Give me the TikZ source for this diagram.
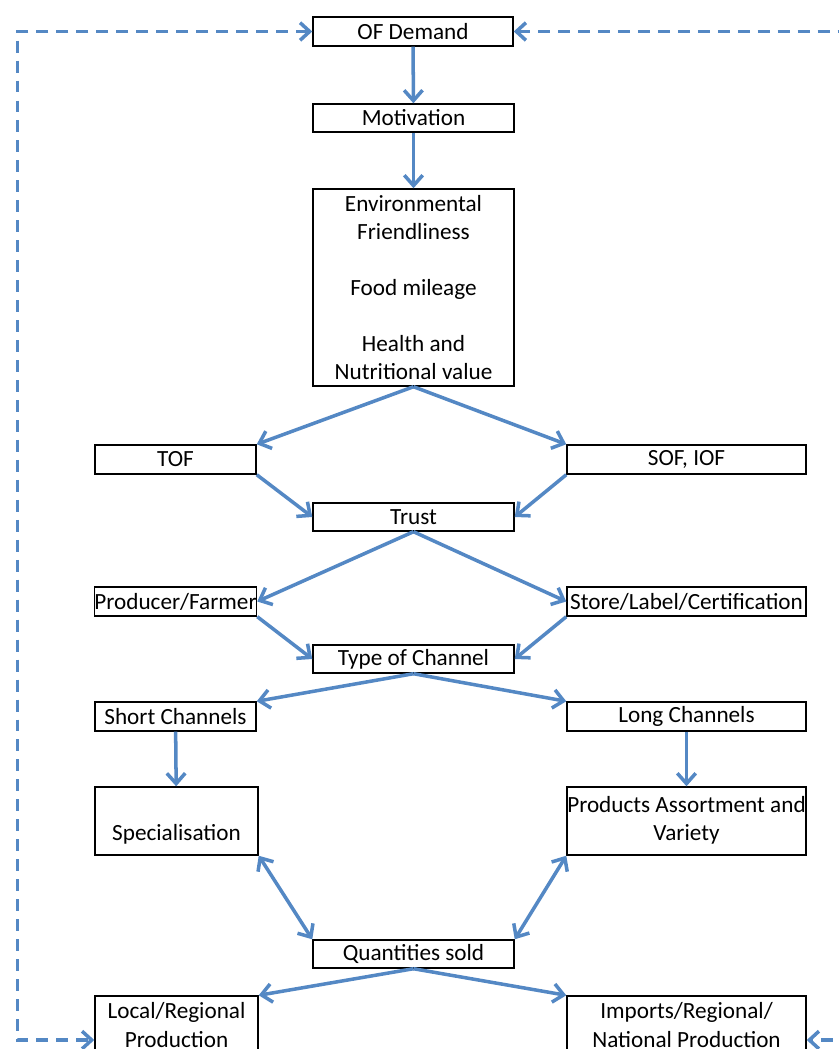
\documentclass[tikz,border=0pt]{standalone}
\usepackage{fontspec}
\setmainfont{Carlito}
\usetikzlibrary{arrows.meta}
\definecolor{flowblue}{RGB}{84,136,196}
\begin{document}
\begin{tikzpicture}[x=0.025cm,y=-0.025cm,
    box/.style={draw=black,line width=1pt,inner sep=0pt,align=center,
                font=\fontsize{16.5}{20}\selectfont},
    flow/.style={draw=flowblue,line width=2.5pt,
                 -{Straight Barb[length=2.6mm,width=4.6mm]}},
    twoflow/.style={flow,{Straight Barb[length=2.6mm,width=4.6mm]}-{Straight Barb[length=2.6mm,width=4.6mm]}},
    feedback/.style={draw=flowblue,line width=2.5pt,dash pattern=on 8.5pt off 5.7pt,
                 {Straight Barb[length=2.4mm,width=4.4mm]}-{Straight Barb[length=2.4mm,width=4.4mm]}}]
\useasboundingbox (0,0) rectangle (839,1049);

% Marking box OF Demand
\node [box,minimum width=5cm,minimum height=0.725cm] (demand) at (413,31.5) {OF Demand};%

% Marking box Motivation
\node [box,minimum width=5.025cm,minimum height=0.7cm] (motiv) at (413.5,118) {Motivation};%

% Marking box of motives
\node [box,minimum width=5.025cm,minimum height=4.925cm] (motives) at (413.5,287.5)
  {Environmental\\Friendliness\\~\\Food mileage\\~\\Health and\\Nutritional value};%

% Marking boxes TOF and SOF, IOF
\node [box,minimum width=4.025cm,minimum height=0.725cm] (tof) at (175.5,459.5) {TOF};%
\node [box,minimum width=5.975cm,minimum height=0.725cm] (sof) at (686.5,459.5) {SOF, IOF};%

% Marking box Trust
\node [box,minimum width=5.025cm,minimum height=0.7cm] (trust) at (413.5,517) {Trust};%

% Marking boxes Producer/Farmer and Store/Label/Certification
\node [box,minimum width=4.025cm,minimum height=0.725cm] (farmer) at (175.5,601.5) {Producer/Farmer};%
\node [box,minimum width=5.975cm,minimum height=0.725cm] (store) at (686.5,601.5) {Store/Label/Certification};%

% Marking box Type of Channel
\node [box,minimum width=5.025cm,minimum height=0.7cm] (channel) at (413.5,659) {Type of Channel};%

% Marking boxes Short Channels and Long Channels
\node [box,minimum width=4.025cm,minimum height=0.725cm] (short) at (175.5,716.5) {Short Channels};%
\node [box,minimum width=5.975cm,minimum height=0.725cm] (long) at (686.5,716.5) {Long Channels};%

% Marking boxes Specialisation and Products Assortment
\node [box,minimum width=4.075cm,minimum height=1.7cm] (special) at (176.5,821) {\strut\\\strut Specialisation};%
\node [box,minimum width=5.975cm,minimum height=1.7cm] (assort) at (686.5,821) {\strut Products Assortment and\\\strut Variety};%

% Marking box Quantities sold
\node [box,minimum width=5.025cm,minimum height=0.7cm] (sold) at (413.5,954) {Quantities sold};%

% Marking boxes of production
\node [box,minimum width=4.075cm,minimum height=1.45cm] (local) at (176.5,1025) {Local/Regional\\Production};%
\node [box,minimum width=5.975cm,minimum height=1.45cm] (imports) at (686.5,1025) {Imports/Regional/\\National Production};%

% Drawing arrows down the chain
\draw [flow] (demand) -- (motiv);%
\draw [flow] (motiv) -- (motives);%
\draw [flow] (motives.south) -- (tof.north east);%
\draw [flow] (motives.south) -- (sof.north west);%
\draw [flow] (tof.south east) -- (trust.west);%
\draw [flow] (sof.south west) -- (trust.east);%
\draw [flow] (trust.south) -- (farmer.east);%
\draw [flow] (trust.south) -- (store.west);%
\draw [flow] (farmer.south east) -- (channel.west);%
\draw [flow] (store.south west) -- (channel.east);%
\draw [flow] (channel.south) -- (short.north east);%
\draw [flow] (channel.south) -- (long.north west);%
\draw [flow] (short) -- (special);%
\draw [flow] (long) -- (assort);%

% Drawing two-way arrows to Quantities sold
\draw [twoflow] (special.south east) -- (sold.north west);%
\draw [twoflow] (assort.south west) -- (sold.north east);%

% Drawing arrows to production
\draw [flow] (sold.south) -- (local.north east);%
\draw [flow] (sold.south) -- (imports.north west);%

% Drawing feedback loops
\coordinate (lturn) at (17.5,1040);%
\coordinate (rturn) at (870,1040);%
\draw [feedback] (demand.west) -| (lturn) -- (lturn -| local.west);%
\draw [feedback] (demand.east) -| (rturn) -- (rturn -| imports.east);%
\end{tikzpicture}
\end{document}
